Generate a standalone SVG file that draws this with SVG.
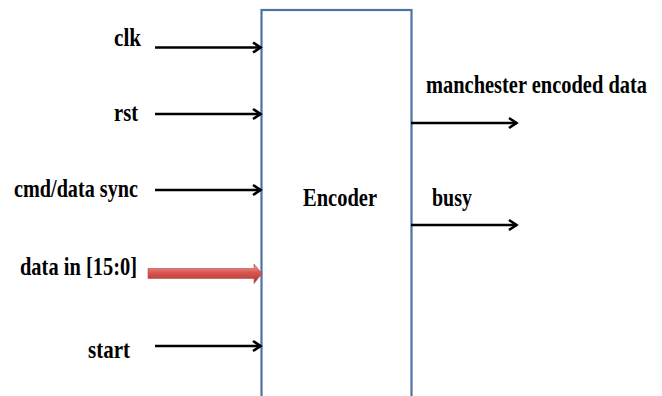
<svg xmlns="http://www.w3.org/2000/svg" width="662" height="396" viewBox="0 0 662 396">
  <defs>
    <style>
      .wire { stroke: #000000; stroke-width: 2.6; fill: none; }
      .box { fill: #ffffff; stroke: #4f72a5; stroke-width: 2.2; }
    </style>
    <marker id="chev" markerUnits="userSpaceOnUse" markerWidth="14" markerHeight="14" viewBox="-10 -7 12 14" refX="0" refY="0" orient="auto">
      <path d="M-8,-5 L-0.5,0 L-8,5" fill="none" stroke="#000000" stroke-width="2.6" stroke-linejoin="miter"/>
    </marker>
    <linearGradient id="redg" x1="0" y1="0" x2="0" y2="1">
      <stop offset="0" stop-color="#f0a4a2"/>
      <stop offset="0.45" stop-color="#d9534f"/>
      <stop offset="1" stop-color="#a63b38"/>
    </linearGradient>
  </defs>

  <rect width="662" height="396" fill="#ffffff"/>

  <g font-family="'Liberation Serif', serif" font-weight="bold" font-size="25" fill="#000000">
  <g id="encoder">
    <rect class="box" x="261.5" y="10" width="150" height="400"/>
    <text x="303" y="206" textLength="74" lengthAdjust="spacingAndGlyphs">Encoder</text>
  </g>

  <g id="in-clk">
    <text x="114" y="46" textLength="27" lengthAdjust="spacingAndGlyphs">clk</text>
  </g>
  <g id="in-rst">
    <text x="114" y="121" textLength="24" lengthAdjust="spacingAndGlyphs">rst</text>
  </g>
  <g id="in-cmd">
    <text x="14" y="197" textLength="124" lengthAdjust="spacingAndGlyphs">cmd/data sync</text>
  </g>
  <g id="in-data">
    <text x="20" y="275" textLength="117" lengthAdjust="spacingAndGlyphs">data in [15:0]</text>
  </g>
  <g id="in-start">
    <text x="88" y="358" textLength="42" lengthAdjust="spacingAndGlyphs">start</text>
  </g>
  <g id="out-manchester">
    <text x="426" y="93" textLength="221" lengthAdjust="spacingAndGlyphs">manchester encoded data</text>
  </g>
  <g id="out-busy">
    <text x="432" y="206" textLength="40" lengthAdjust="spacingAndGlyphs">busy</text>
  </g>
  </g>

  <g id="connectors">
    <line class="wire" x1="155" y1="47.5" x2="261" y2="47.5" marker-end="url(#chev)"/>
    <line class="wire" x1="155" y1="114" x2="261" y2="114" marker-end="url(#chev)"/>
    <line class="wire" x1="155" y1="190" x2="261" y2="190" marker-end="url(#chev)"/>
    <line class="wire" x1="155" y1="346" x2="261" y2="346" marker-end="url(#chev)"/>
    <line class="wire" x1="411" y1="123" x2="517" y2="123" marker-end="url(#chev)"/>
    <line class="wire" x1="411" y1="225" x2="517" y2="225" marker-end="url(#chev)"/>
    <path d="M148,273.5 L148,268.5 L254,268.5 L254,264 L262,273.5 L254,283.5 L254,278.5 L148,278.5 Z" fill="url(#redg)" stroke="#b84845" stroke-width="0.6"/>
  </g>
</svg>
